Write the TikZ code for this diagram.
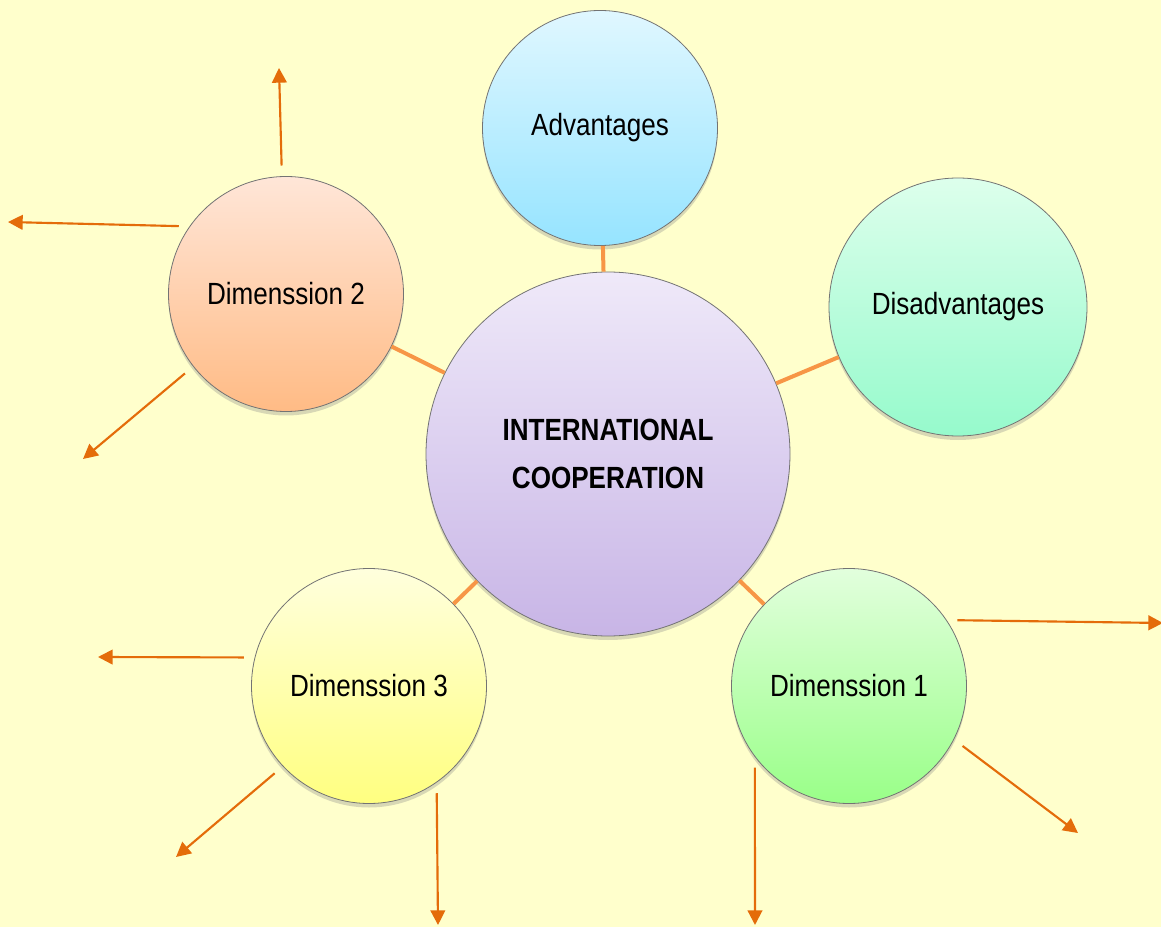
\documentclass[tikz,border=0pt]{standalone}
\usepackage{fontspec}
\setmainfont{Liberation Sans}[FakeStretch=0.85]
\usetikzlibrary{positioning,shadows,arrows.meta}
\definecolor{paper}{RGB}{255,255,204}
\definecolor{linkorange}{RGB}{247,150,70}
\definecolor{rayorange}{RGB}{228,108,10}

\begin{document}
\begin{tikzpicture}[x=0.75pt,y=-0.75pt,on grid,
 bubble/.style={circle,draw=black!55,line width=0.6pt,inner sep=0pt,minimum size=176.25pt,
  align=center,font=\fontsize{23}{36}\selectfont,
  drop shadow={shadow xshift=0pt,shadow yshift=-3pt,opacity=0.3}},
 link/.style={draw=linkorange,line width=3pt},
 ray/.style={color=rayorange,line width=1.6pt,-{Triangle[length=11pt,width=11pt]},shorten <=8pt}]
 \useasboundingbox (0,0) rectangle (1161,927);
 \fill[paper] (0,0) rectangle (1161,927);

 \node[bubble,minimum size=273pt,top color={rgb,255:red,239;green,233;blue,249},bottom color={rgb,255:red,200;green,181;blue,230}]
  (ic) at (608,454) {\textbf{INTERNATIONAL}\\\textbf{COOPERATION}};
 \node[bubble,top color={rgb,255:red,224;green,247;blue,255},bottom color={rgb,255:red,150;green,228;blue,255}]
  (adv) [above left=244.5pt and 6pt of ic] {Advantages};
 \node[bubble,minimum size=193.5pt,top color={rgb,255:red,221;green,255;blue,236},bottom color={rgb,255:red,150;green,250;blue,204}]
  (dis) [above right=110.25pt and 262.5pt of ic] {Disadvantages};
 \node[bubble,top color={rgb,255:red,255;green,230;blue,216},bottom color={rgb,255:red,255;green,187;blue,133}]
  (d2) [above left=120pt and 241.5pt of ic] {Dimenssion 2};
 \node[bubble,top color={rgb,255:red,255;green,255;blue,221},bottom color={rgb,255:red,255;green,255;blue,128}]
  (d3) [below left=174pt and 179.25pt of ic] {Dimenssion 3};
 \node[bubble,top color={rgb,255:red,226;green,255;blue,221},bottom color={rgb,255:red,153;green,255;blue,136}]
  (d1) [below right=174pt and 180.75pt of ic] {Dimenssion 1};

 \path[link] (ic) -- (adv) (ic) -- (dis) (ic) -- (d2) (ic) -- (d3) (ic) -- (d1);

 % free ends of the arrows
 \coordinate (d2n) at (279,68);
 \coordinate (d2w) at (8,222);
 \coordinate (d2sw) at (83,459);
 \coordinate (d3w) at (98,657);
 \coordinate (d3sw) at (176,857);
 \coordinate (d3s) at (438,925);
 \coordinate (d1e) at (1163,623);
 \coordinate (d1se) at (1078,833);
 \coordinate (d1s) at (755,925);

 \path[ray]
 (d2.92) edge (d2n)
 (d2.145) edge (d2w)
 (d2.218) edge (d2sw)
 (d3.166) edge (d3w)
 (d3.223) edge (d3sw)
 (d3.305) edge (d3s)
 (d1.34) edge (d1e)
 (d1.333) edge (d1se)
 (d1.217) edge (d1s);
\end{tikzpicture}
\end{document}
